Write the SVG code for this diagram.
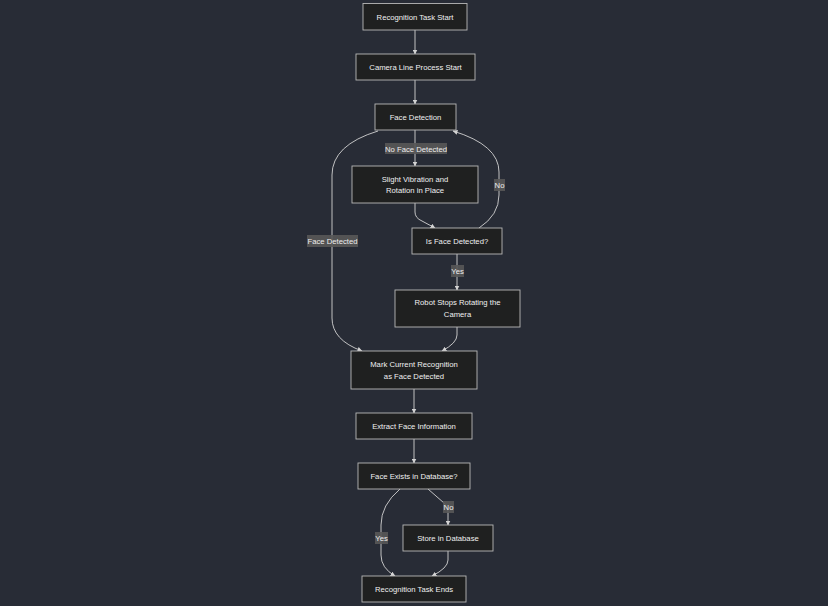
<svg xmlns="http://www.w3.org/2000/svg" width="828" height="606" viewBox="0 0 828 606">
<style>
.node rect{fill:#1f2020;stroke:#b8b8b8;stroke-width:0.9}
.node text{fill:#f0f0f0;font-family:"Liberation Sans",Arial,sans-serif;font-size:7.7px;text-anchor:middle}
.edge{fill:none;stroke:#d3d3d3;stroke-width:0.9}
.lbl rect{fill:#585858;opacity:0.9}
.lbl text{fill:#eeeeee;font-family:"Liberation Sans",Arial,sans-serif;font-size:7.7px;text-anchor:middle}
</style>
<defs>
<marker id="arr" viewBox="0 0 10 10" refX="9" refY="5" markerWidth="5" markerHeight="5" orient="auto-start-reverse" markerUnits="userSpaceOnUse">
<path d="M0,0 L10,5 L0,10 z" fill="#d3d3d3"/>
</marker>
</defs>
<rect x="0" y="0" width="828" height="606" fill="#282c36"/>
<g id="connectors">
<path class="edge" d="M415,30 L415,54" marker-end="url(#arr)"/>
<path class="edge" d="M415,80 L415,104" marker-end="url(#arr)"/>
<path class="edge" d="M415,130 L415,166" marker-end="url(#arr)"/>
<path class="edge" d="M415,203 L415,212 Q415,218 422,221 L435,228" marker-end="url(#arr)"/>
<path class="edge" d="M479,228 Q499,215 499,195 L499,172 Q499,145 453,131" marker-end="url(#arr)"/>
<path class="edge" d="M378,131 Q332,145 332,175 L332,318 Q332,340 362,351" marker-end="url(#arr)"/>
<path class="edge" d="M457,254 L457,290" marker-end="url(#arr)"/>
<path class="edge" d="M457,327 L457,335 Q457,343 442,351" marker-end="url(#arr)"/>
<path class="edge" d="M414,389 L414,413" marker-end="url(#arr)"/>
<path class="edge" d="M414,439 L414,463" marker-end="url(#arr)"/>
<path class="edge" d="M428,489 L444,503 Q448,507 448,512 L448,525" marker-end="url(#arr)"/>
<path class="edge" d="M400,489 Q381,505 381,525 L381,555 Q381,568 395,576" marker-end="url(#arr)"/>
<path class="edge" d="M448,551 L448,560 Q448,568 432,576" marker-end="url(#arr)"/>
</g>
<g id="edge-labels">
<g class="lbl"><rect x="385" y="143" width="62" height="11"/><text x="416" y="151.5">No Face Detected</text></g>
<g class="lbl"><rect x="494" y="179" width="11" height="12"/><text x="499.5" y="188">No</text></g>
<g class="lbl"><rect x="307" y="235" width="51" height="12"/><text x="332.5" y="244">Face Detected</text></g>
<g class="lbl"><rect x="451" y="265" width="13" height="12"/><text x="457.5" y="274">Yes</text></g>
<g class="lbl"><rect x="443" y="501" width="11" height="12"/><text x="448.5" y="510">No</text></g>
<g class="lbl"><rect x="375" y="532" width="13" height="12"/><text x="381.5" y="541">Yes</text></g>
</g>
<g id="n1" class="node"><rect x="363" y="3.5" width="104" height="26.5"/><text x="415" y="19.5">Recognition Task Start</text></g>
<g id="n2" class="node"><rect x="356" y="54" width="119" height="26"/><text x="415.5" y="70">Camera Line Process Start</text></g>
<g id="n3" class="node"><rect x="375" y="104" width="81" height="26"/><text x="415.5" y="120">Face Detection</text></g>
<g id="n4" class="node"><rect x="352" y="166" width="126" height="37"/><text x="415" y="182">Slight Vibration and</text><text x="415" y="193">Rotation in Place</text></g>
<g id="n5" class="node"><rect x="412" y="228" width="90" height="26"/><text x="457" y="244">Is Face Detected?</text></g>
<g id="n6" class="node"><rect x="395" y="290" width="125" height="37"/><text x="457.5" y="305">Robot Stops Rotating the</text><text x="457.5" y="317">Camera</text></g>
<g id="n7" class="node"><rect x="351" y="351" width="126" height="38"/><text x="414" y="367">Mark Current Recognition</text><text x="414" y="379">as Face Detected</text></g>
<g id="n8" class="node"><rect x="356" y="413" width="116" height="26"/><text x="414" y="429">Extract Face Information</text></g>
<g id="n9" class="node"><rect x="358" y="463" width="112" height="26"/><text x="414" y="479">Face Exists in Database?</text></g>
<g id="n10" class="node"><rect x="403" y="525" width="90" height="26"/><text x="448" y="541">Store in Database</text></g>
<g id="n11" class="node"><rect x="362" y="576" width="104" height="26"/><text x="414" y="592">Recognition Task Ends</text></g>
</svg>
